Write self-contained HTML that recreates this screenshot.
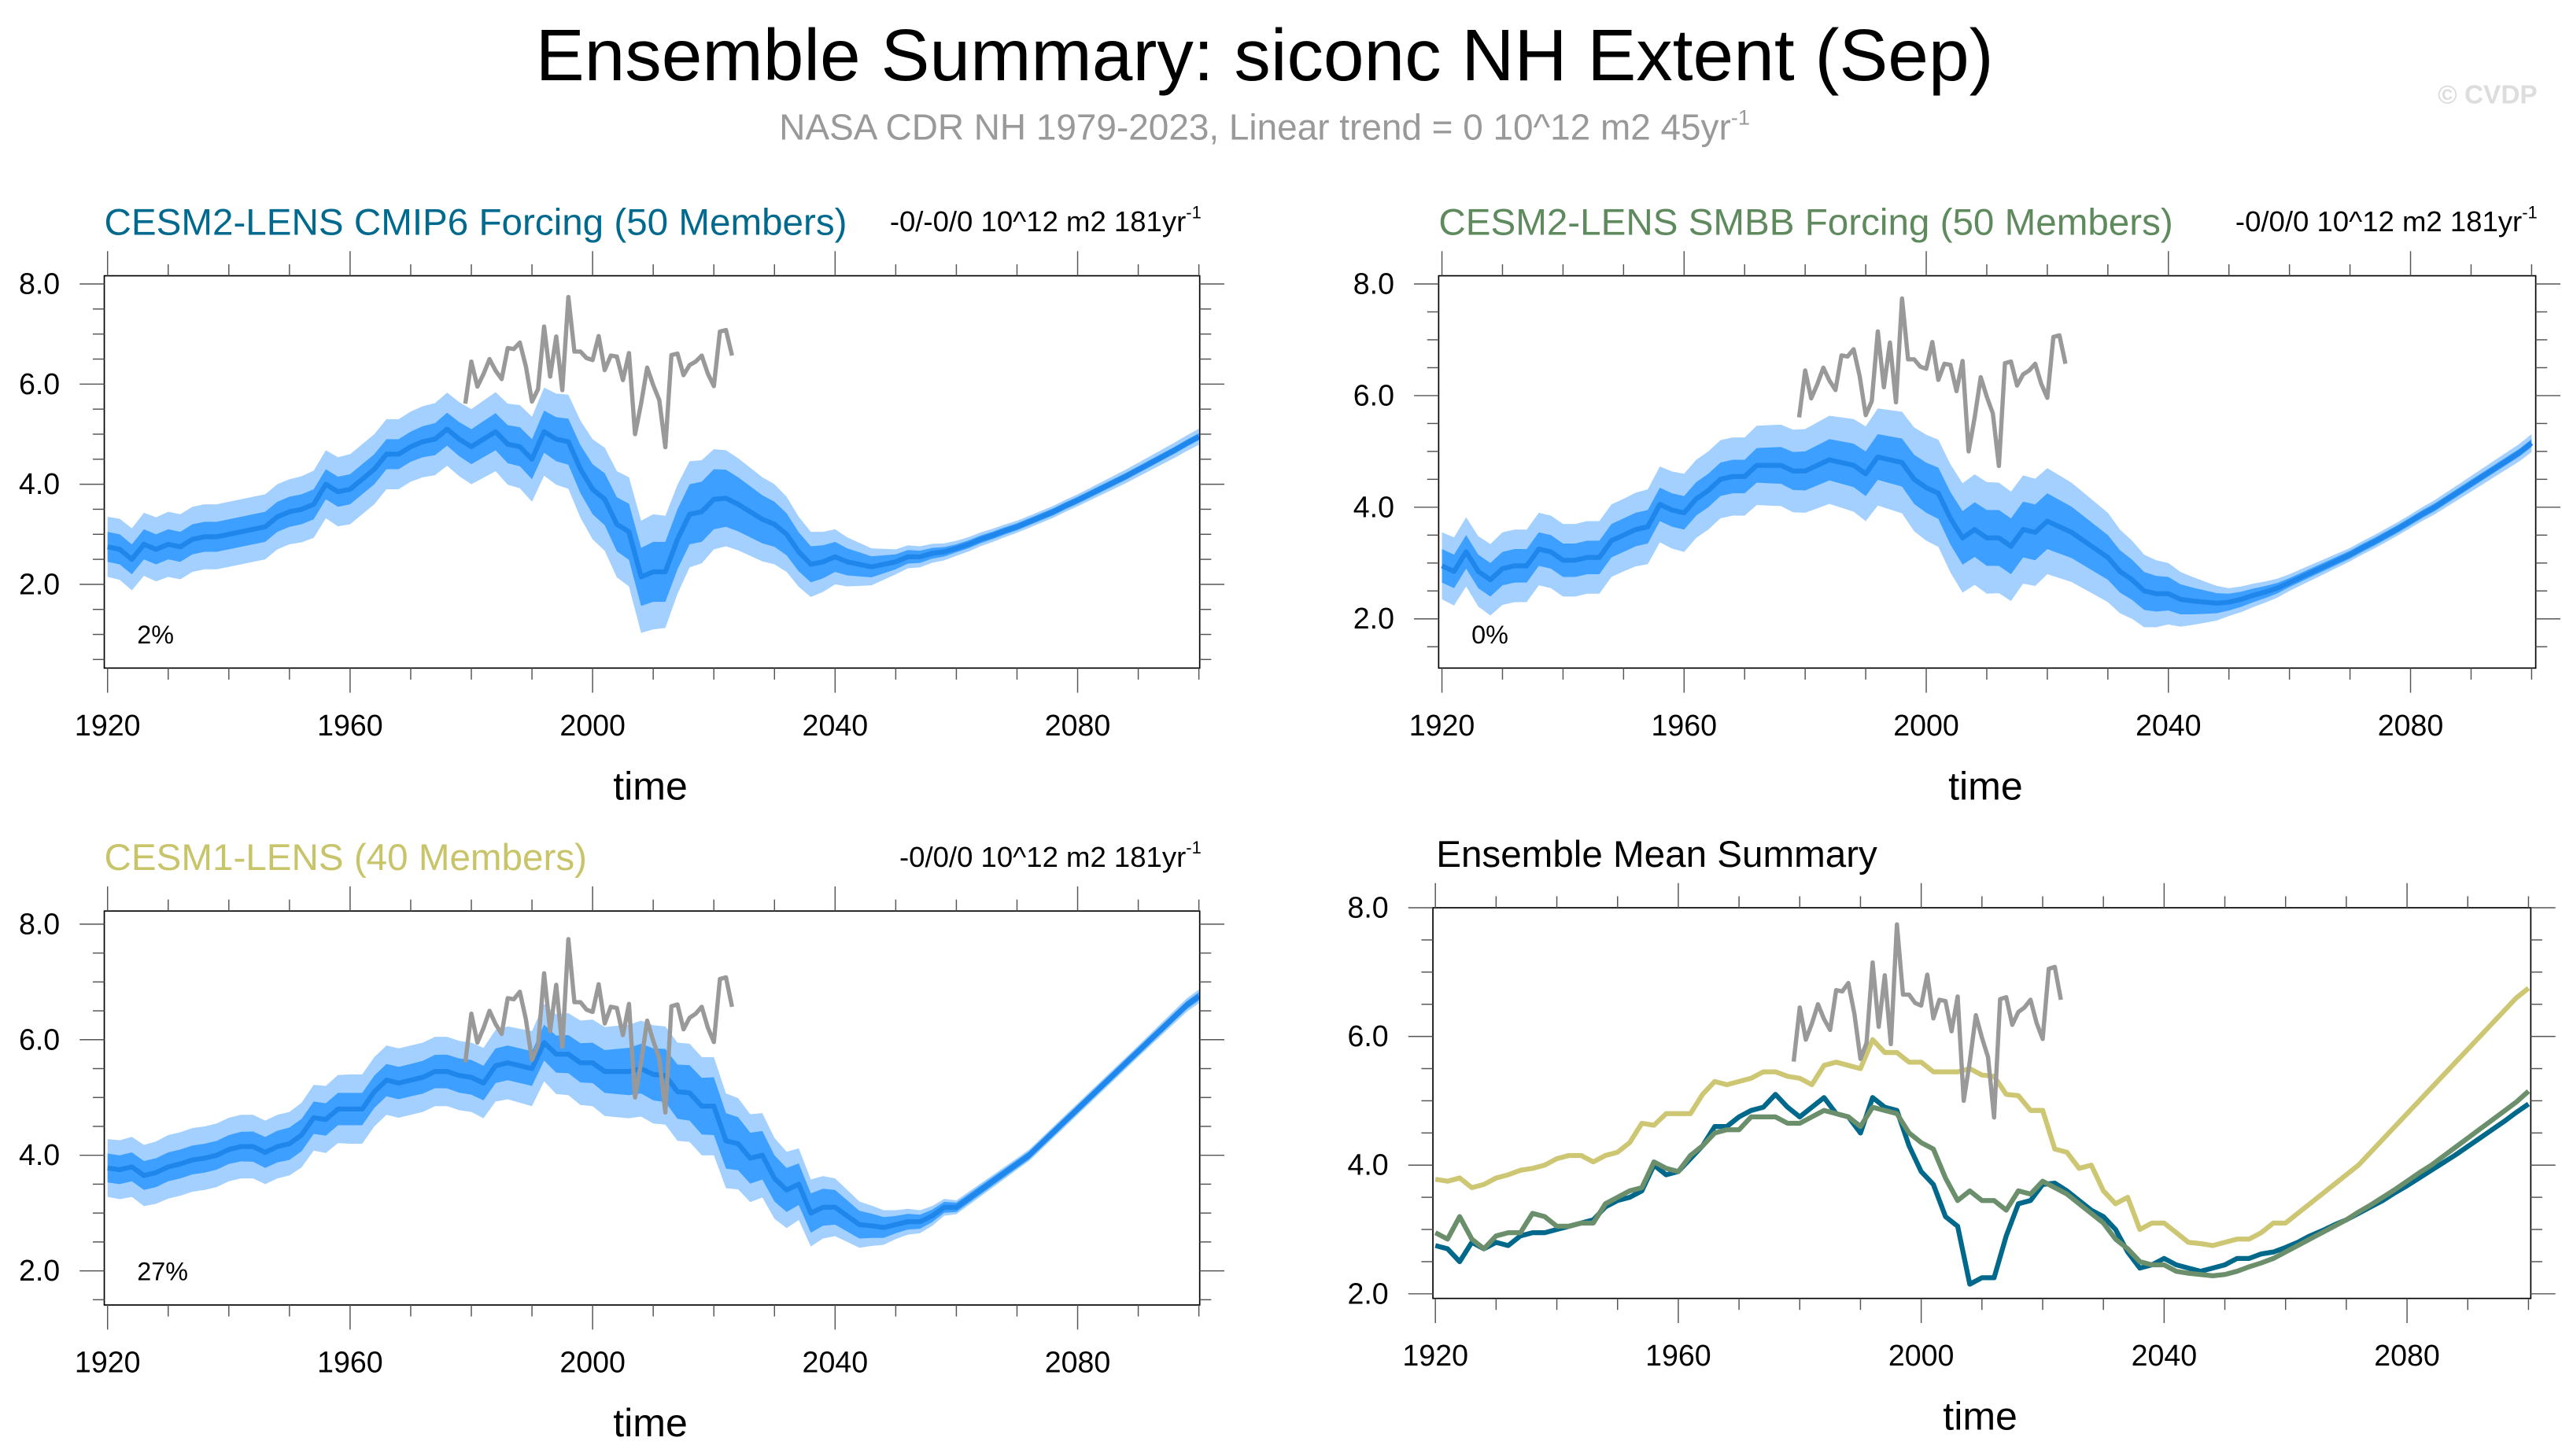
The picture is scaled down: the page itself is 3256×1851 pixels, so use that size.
<!DOCTYPE html>
<html><head><meta charset="utf-8"><style>
html,body{margin:0;padding:0;background:#fff;}
svg{display:block;font-family:"Liberation Sans",sans-serif;}
</style></head><body>
<svg id="chart" width="3256" height="1851" viewBox="0 0 1560 887" preserveAspectRatio="none" xmlns="http://www.w3.org/2000/svg">
<rect width="1560" height="887" fill="#fff"/>
<text x="770" y="49" font-size="44.5" text-anchor="middle" fill="#000">Ensemble Summary: siconc NH Extent (Sep)</text>
<text x="770" y="85" font-size="22" text-anchor="middle" fill="#999">NASA CDR NH 1979-2023, Linear trend = 0 10^12 m2 45yr<tspan font-size="13" dy="-9">-1</tspan></text>
<text x="1545" y="63" font-size="16" font-weight="bold" text-anchor="end" fill="#ddd">© CVDP</text>
<g id="panels"></g>
</svg>
<script>
const years = [];
for (let y = 1920; y <= 2100; y += 2) years.push(y);
const obsYears = [];
for (let y = 1979; y <= 2023; y++) obsYears.push(y);
const obsValues = [5.61,6.45,5.95,6.2,6.5,6.27,6.1,6.72,6.7,6.83,6.35,5.65,5.9,7.15,6.15,6.95,5.88,7.74,6.65,6.65,6.52,6.48,6.96,6.28,6.57,6.55,6.08,6.62,5.0,5.61,6.33,5.98,5.68,4.74,6.58,6.61,6.18,6.38,6.45,6.57,6.21,5.96,7.05,7.08,6.57];
const cmip6Mean = [2.75,2.7,2.5,2.8,2.7,2.8,2.75,2.9,2.95,2.95,3.0,3.05,3.1,3.15,3.35,3.45,3.5,3.6,4.0,3.85,3.9,4.1,4.3,4.6,4.6,4.75,4.85,4.9,5.1,4.9,4.75,4.9,5.05,4.8,4.75,4.5,5.05,4.9,4.85,4.3,3.9,3.7,3.2,3.05,2.15,2.25,2.25,2.9,3.4,3.45,3.7,3.72,3.6,3.45,3.3,3.2,3.0,2.65,2.4,2.45,2.55,2.45,2.4,2.35,2.4,2.45,2.55,2.55,2.62,2.65,2.72,2.8,2.9,2.98,3.07,3.15,3.25,3.35,3.45,3.57,3.68,3.8,3.92,4.04,4.16,4.29,4.42,4.55,4.68,4.82,4.95];
const smbbMean = [2.95,2.85,3.2,2.85,2.7,2.9,2.95,2.95,3.25,3.2,3.05,3.05,3.1,3.1,3.4,3.5,3.6,3.65,4.05,3.95,3.9,4.15,4.3,4.5,4.55,4.55,4.75,4.75,4.75,4.65,4.65,4.75,4.85,4.8,4.75,4.6,4.9,4.85,4.8,4.5,4.35,4.25,3.8,3.45,3.6,3.45,3.45,3.3,3.6,3.55,3.75,3.65,3.55,3.4,3.25,3.1,2.85,2.7,2.5,2.45,2.45,2.35,2.32,2.3,2.28,2.3,2.35,2.42,2.48,2.55,2.65,2.75,2.85,2.95,3.05,3.15,3.27,3.38,3.5,3.62,3.75,3.88,4.0,4.14,4.28,4.42,4.56,4.7,4.84,4.98,5.15];
const cesm1Mean = [3.78,3.75,3.8,3.65,3.7,3.8,3.85,3.92,3.95,4.0,4.1,4.15,4.15,4.05,4.15,4.2,4.35,4.65,4.62,4.8,4.8,4.8,5.1,5.3,5.25,5.3,5.35,5.45,5.45,5.38,5.35,5.25,5.55,5.6,5.55,5.5,5.95,5.75,5.75,5.6,5.6,5.45,5.45,5.45,5.5,5.4,5.38,5.1,5.08,4.85,4.85,4.25,4.2,3.95,4.0,3.6,3.4,3.5,3.0,3.1,3.1,2.95,2.8,2.78,2.75,2.8,2.85,2.85,2.95,3.1,3.1,3.25,3.4,3.55,3.7,3.85,4.0,4.2,4.4,4.6,4.8,5.0,5.2,5.4,5.6,5.8,6.0,6.2,6.4,6.6,6.75];
// spread half-widths at decadal knots 1920..2100
const decadeKnots = [1920,1930,1940,1950,1960,1970,1980,1990,2000,2010,2020,2030,2040,2050,2060,2070,2080,2090,2100];
const cmip6Inner = [0.3,0.3,0.3,0.3,0.3,0.3,0.35,0.4,0.5,0.6,0.6,0.45,0.3,0.15,0.08,0.07,0.07,0.07,0.07];
const cmip6Outer = [0.6,0.65,0.65,0.65,0.7,0.7,0.75,0.85,1.0,1.15,1.0,0.8,0.55,0.25,0.15,0.12,0.12,0.14,0.16];
const smbbInner = [0.3,0.3,0.3,0.3,0.3,0.3,0.35,0.4,0.45,0.5,0.5,0.4,0.3,0.15,0.08,0.07,0.07,0.07,0.07];
const smbbOuter = [0.6,0.65,0.65,0.65,0.7,0.7,0.75,0.85,0.95,1.0,0.95,0.8,0.55,0.25,0.15,0.12,0.12,0.14,0.16];
const cesm1Inner = [0.25,0.25,0.25,0.28,0.28,0.28,0.3,0.3,0.35,0.45,0.5,0.4,0.3,0.15,0.08,0.07,0.07,0.07,0.07];
const cesm1Outer = [0.5,0.55,0.55,0.55,0.6,0.6,0.6,0.65,0.75,0.85,0.85,0.7,0.5,0.25,0.12,0.1,0.1,0.1,0.12];
const xTickLabels = ["1920","1960","2000","2040","2080"];
const yTickLabels = ["2.0","4.0","6.0","8.0"];

const NS = "http://www.w3.org/2000/svg";
const root = document.getElementById("panels");
function mk(tag, attrs, parent) {
  const e = document.createElementNS(NS, tag);
  for (const k in attrs) e.setAttribute(k, attrs[k]);
  (parent || root).appendChild(e);
  return e;
}
function knot(arr, yr) {
  const f = (yr - 1920) / 10, i = Math.min(Math.floor(f), 17), t = f - i;
  return arr[i] * (1 - t) + arr[i + 1] * t;
}
const panels = [
  {id:"cmip6", bx0:63.5, bx1:730.5, by0:168, by1:407, x1920:65.5, x2100:730, y8:173, k:30.5, title:"CESM2-LENS CMIP6 Forcing (50 Members)", tcol:"#006a8e", trend:"-0/-0/0 10^12 m2 181yr", mean:cmip6Mean, inner:cmip6Inner, outer:cmip6Outer, pct:"2%"},
  {id:"smbb", bx0:876, bx1:1544, by0:168, by1:407, x1920:878, x2100:1541.5, y8:173, k:34, title:"CESM2-LENS SMBB Forcing (50 Members)", tcol:"#5f8a5e", trend:"-0/0/0 10^12 m2 181yr", mean:smbbMean, inner:smbbInner, outer:smbbOuter, pct:"0%"},
  {id:"cesm1", bx0:63.5, bx1:730.5, by0:555, by1:795, x1920:65.5, x2100:730, y8:563, k:35.2, title:"CESM1-LENS (40 Members)", tcol:"#c8c46a", trend:"-0/0/0 10^12 m2 181yr", mean:cesm1Mean, inner:cesm1Inner, outer:cesm1Outer, pct:"27%"},
  {id:"summary", bx0:872.5, bx1:1541, by0:553, by1:791, x1920:874, x2100:1539.6, y8:553, k:39.2, title:"Ensemble Mean Summary", tcol:"#000", trend:null}
];
panels.forEach(p => {
  const g = mk("g", {});
  
  
  const X = yr => p.x1920 + (yr - 1920) * (p.x2100 - p.x1920) / 180;
  const Y = v => p.y8 + (8 - v) * p.k;
  const clip = mk("clipPath", {id:"clip-" + p.id}, g);
  mk("rect", {x:p.bx0, y:p.by0, width:p.bx1 - p.bx0, height:p.by1 - p.by0}, clip);
  const plot = mk("g", {"clip-path":"url(#clip-" + p.id + ")"}, g);
  function linePath(xs, vs) { return xs.map((yr, i) => (i ? "L" : "M") + X(yr).toFixed(2) + "," + Y(vs[i]).toFixed(2)).join(""); }
  function band(w) {
    const up = years.map((yr, i) => X(yr).toFixed(2) + "," + Y(p.mean[i] + knot(w, yr)).toFixed(2));
    const lo = years.map((yr, i) => X(yr).toFixed(2) + "," + Y(p.mean[i] - knot(w, yr)).toFixed(2)).reverse();
    return "M" + up.join("L") + "L" + lo.join("L") + "Z";
  }
  if (p.mean) {
    const o = mk("path", {d:band(p.outer), fill:"#a3d0ff"}, plot);
    
    
    const inn = mk("path", {d:band(p.inner), fill:"#3d9fff"}, plot);
    
    
    const ml = mk("path", {d:linePath(years, p.mean), fill:"none", stroke:"#1f86ec", "stroke-width":3, "stroke-linejoin":"round"}, plot);
    
    
  } else {
    [[cesm1Mean,"#cdc673","cesm1-mean-line"],[cmip6Mean,"#00688b","cmip6-mean-line"],[smbbMean,"#6b8e6b","smbb-mean-line"]].forEach(s => {
      const l = mk("path", {d:linePath(years, s[0]), fill:"none", stroke:s[1], "stroke-width":3, "stroke-linejoin":"round"}, plot);
      
      
    });
  }
  const ob = mk("path", {d:linePath(obsYears, obsValues), fill:"none", stroke:"#999", "stroke-width":2.6, "stroke-linejoin":"round"}, plot);
  
  
  const box = mk("rect", {x:p.bx0, y:p.by0, width:p.bx1 - p.bx0, height:p.by1 - p.by0, fill:"none", stroke:"#000", "stroke-width":0.8}, g);
  
  
  for (let yr = 1920; yr <= 2100; yr += 10) {
    const major = (yr - 1920) % 40 === 0, L = major ? 15 : 7, x = X(yr);
    mk("line", {x1:x, x2:x, y1:p.by0, y2:p.by0 - L, stroke:"#555", "stroke-width":0.7}, g);
    mk("line", {x1:x, x2:x, y1:p.by1, y2:p.by1 + L, stroke:"#555", "stroke-width":0.7}, g);
  }
  xTickLabels.forEach(lbl => {
    const t = mk("text", {x:X(+lbl), y:p.by1 + 41, "font-size":18, "text-anchor":"middle"}, g);
    t.textContent = lbl;
    
    
  });
  for (let v = 0; v <= 8.01; v += 0.5) {
    const y = Y(v);
    if (y < p.by0 - 0.5 || y > p.by1 + 0.5) continue;
    const major = Math.abs(v % 2) < 0.01, L = major ? 15 : 7;
    mk("line", {x1:p.bx0, x2:p.bx0 - L, y1:y, y2:y, stroke:"#555", "stroke-width":0.7}, g);
    mk("line", {x1:p.bx1, x2:p.bx1 + L, y1:y, y2:y, stroke:"#555", "stroke-width":0.7}, g);
  }
  yTickLabels.forEach(lbl => {
    const t = mk("text", {x:p.bx0 - 27, y:Y(+lbl) + 6, "font-size":18, "text-anchor":"end"}, g);
    t.textContent = lbl;
    
    
  });
  const xt = mk("text", {x:(p.bx0 + p.bx1) / 2 - 1, y:p.by1 + 80, "font-size":24, "text-anchor":"middle"}, g);
  xt.textContent = "time";
  
  
  const tt = mk("text", {x:p.bx0 + (p.id === "summary" ? 2 : 0), y:p.by0 - 25, "font-size":22.8, fill:p.tcol}, g);
  tt.textContent = p.title;
  
  
  if (p.trend) {
    const tr = mk("text", {x:p.bx1 + 1, y:p.by0 - 27, "font-size":17.5, "text-anchor":"end"}, g);
    
    
    tr.textContent = p.trend;
    const sup = mk("tspan", {"font-size":10.5, dy:-8}, tr);
    sup.textContent = "-1";
    const pc = mk("text", {x:p.bx0 + 20, y:p.by1 - 15, "font-size":15.5}, g);
    pc.textContent = p.pct;
    
    
  }
});
</script>
</body></html>
